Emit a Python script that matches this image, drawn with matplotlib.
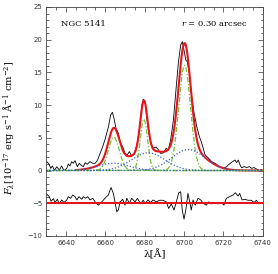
import numpy as np
import matplotlib
matplotlib.use("Agg")
import matplotlib.pyplot as plt
from matplotlib.ticker import MultipleLocator

comprimento_onda = [6630.2, 6631.4, 6632.2, 6633.1, 6634.1, 6635.3, 6636.6, 6637.8, 6639.0, 6640.4,
                    6641.2, 6642.0, 6642.9, 6643.7, 6644.6, 6645.8, 6646.8, 6647.6, 6648.8, 6649.8,
                    6650.8, 6652.2, 6653.6, 6654.8, 6655.9, 6657.3, 6658.6, 6659.8, 6661.6, 6662.7,
                    6663.6, 6664.4, 6665.4, 6666.6, 6667.5, 6668.3, 6669.1, 6670.0, 6671.2, 6672.2,
                    6673.4, 6674.6, 6676.0, 6677.3, 6678.5, 6679.3, 6680.2, 6681.0, 6681.9, 6683.1,
                    6684.4, 6685.8, 6686.9, 6688.2, 6689.5, 6690.9, 6692.0, 6693.2, 6694.6, 6695.9,
                    6697.1, 6698.3, 6699.1, 6700.0, 6700.9, 6701.7, 6702.7, 6703.9, 6705.1, 6706.5,
                    6707.8, 6709.0, 6710.7, 6712.4, 6714.1, 6715.8, 6717.5, 6720.0, 6721.7, 6722.4,
                    6724.6, 6725.9, 6726.7, 6727.6, 6728.5, 6729.3, 6730.5, 6731.9, 6733.2, 6734.4,
                    6735.6, 6737.0, 6738.3, 6739.3, 6740.0]
fluxo = [1.35, 1.0, 0.33, 0.69, 0.0, 0.58, 0.08, 0.69, 0.0, 0.33,
         1.0, 0.69, 1.35, 1.1, 1.5, 0.58, 1.1, 0.84, 0.58, 1.2,
         0.95, 1.35, 1.1, 1.1, 1.5, 2.6, 3.6, 4.7, 6.7, 8.5,
         8.9, 8.0, 6.45, 5.7, 4.4, 3.9, 3.4, 2.6, 2.4, 2.9,
         2.2, 2.5, 3.9, 6.2, 9.8, 10.9, 10.5, 8.2, 6.2, 4.2,
         3.4, 3.6, 3.2, 2.6, 2.7, 3.4, 3.1, 4.7, 7.7, 12.3,
         16.4, 19.2, 19.7, 18.4, 16.9, 16.6, 14.9, 11.3, 8.75, 6.7,
         5.2, 4.2, 2.4, 1.9, 1.35, 1.1, 0.7, 0.33, 0.6, 0.84,
         1.35, 1.6, 1.2, 1.6, 0.84, 0.4, 0.6, 0.45, 0.6, 0.33,
         0.45, 0.2, -0.05, 0.15, 0.0]

# residuos (deslocados para -5)
comprimento_onda_res = [6630.2, 6631.5, 6632.4, 6633.6, 6634.4, 6635.6, 6636.6, 6637.8, 6639.0, 6640.4,
                        6641.2, 6642.4, 6643.4, 6644.6, 6645.5, 6646.6, 6648.0, 6648.8, 6650.0, 6651.0,
                        6652.2, 6653.6, 6654.8, 6656.4, 6658.2, 6659.8, 6661.5, 6662.9, 6664.1, 6664.9,
                        6665.8, 6666.6, 6667.5, 6668.8, 6670.0, 6670.9, 6672.2, 6673.4, 6675.1, 6676.3,
                        6678.0, 6679.2, 6680.3, 6681.7, 6683.1, 6684.2, 6685.9, 6687.6, 6689.3, 6691.0,
                        6692.2, 6693.5, 6694.9, 6696.1, 6697.3, 6698.3, 6699.1, 6700.0, 6700.9, 6702.0,
                        6702.9, 6703.7, 6704.6, 6705.7, 6707.1, 6708.5, 6709.7, 6711.3, 6712.6, 6713.9,
                        6715.6, 6717.3, 6719.0, 6720.3, 6721.5, 6723.2, 6724.9, 6726.1, 6727.5, 6728.3,
                        6729.5, 6730.9, 6732.5, 6734.2, 6735.6, 6736.8, 6738.0, 6739.3, 6740.0]
residuo = [-3.6, -4.0, -4.7, -4.3, -4.9, -4.4, -5.1, -4.5, -4.9, -4.5,
           -4.0, -4.25, -3.75, -4.0, -4.5, -4.0, -4.4, -4.0, -4.25, -4.0,
           -4.5, -4.25, -4.8, -5.3, -4.8, -4.25, -3.75, -2.6, -3.5, -4.8,
           -6.3, -6.05, -4.8, -4.4, -5.3, -4.25, -5.0, -4.25, -4.8, -4.25,
           -5.1, -4.55, -5.0, -4.5, -4.9, -4.5, -4.8, -4.55, -4.55, -4.8,
           -5.8, -5.1, -6.05, -4.8, -3.4, -3.25, -6.05, -7.45, -6.05, -3.5,
           -4.8, -6.05, -4.5, -5.3, -4.25, -4.5, -5.0, -5.3, -4.8, -5.1,
           -4.9, -5.1, -4.9, -5.3, -4.25, -4.0, -3.75, -3.4, -3.9, -3.5,
           -4.5, -4.4, -4.55, -4.55, -4.9, -4.55, -5.1, -4.9, -5.0]

# componentes gaussianas: [NII]6548, Halpha, [NII]6583
centros_estreitas = [6664.3, 6679.6, 6700.3]
amplitudes_estreitas = [5.1, 7.85, 16.1]
sigmas_estreitas = [2.8, 1.85, 3.0]

centros_largas = [6664.0, 6681.8, 6702.2]
amplitudes_largas = [1.1, 2.7, 3.2]
sigmas_largas = [8.0, 8.5, 8.5]

nivel_residuo = -5
inicio_modelo = 6645


def gaussiana(x, centro, amplitude, sigma):
    return amplitude * np.exp(-0.5 * ((x - centro) / sigma) ** 2)


x = np.linspace(6630, 6740, 600)
estreitas = [gaussiana(x, c, a, s) for c, a, s in zip(centros_estreitas, amplitudes_estreitas, sigmas_estreitas)]
largas = [gaussiana(x, c, a, s) for c, a, s in zip(centros_largas, amplitudes_largas, sigmas_largas)]
modelo = np.sum(estreitas, axis=0) + np.sum(largas, axis=0)

plt.rcParams['font.family'] = ['DejaVu Serif']
plt.rcParams['mathtext.fontset'] = 'dejavuserif'

fig = plt.figure(figsize=(2.78, 2.74), dpi=100)
ax = fig.add_axes([0.1666, 0.139, 0.7784, 0.8355])

ax.plot(comprimento_onda, fluxo, color='black', lw=0.6)
ax.plot(comprimento_onda_res, residuo, color='black', lw=0.6)

dentro = x >= inicio_modelo
ax.plot(x[dentro], modelo[dentro], color='#e8141c', lw=1.5)
ax.axhline(nivel_residuo, color='#e8141c', lw=1.5)

for curva in estreitas:
    ax.plot(x, curva, color='#6cc23a', lw=0.9, ls=(0, (4, 1.5, 1, 1.5)))
for curva in largas:
    ax.plot(x, curva, color='#3f5fc0', lw=0.9, ls=(0, (1, 1.5)))

ax.set_xlim(6630, 6740)
ax.set_ylim(-10, 25)
ax.xaxis.set_major_locator(MultipleLocator(20))
ax.xaxis.set_minor_locator(MultipleLocator(5))
ax.yaxis.set_major_locator(MultipleLocator(5))
ax.yaxis.set_minor_locator(MultipleLocator(1))
ax.tick_params(which='both', direction='in', top=True, right=True, width=0.5, labelsize=5,
               colors='#333333', pad=3)
ax.tick_params(which='major', length=3.5)
ax.tick_params(which='minor', length=1.8)
for lab in ax.get_xticklabels() + ax.get_yticklabels():
    lab.set_family('DejaVu Sans')
for sp in ax.spines.values():
    sp.set_linewidth(0.6)
    sp.set_color('#444444')

ax.text(0.067, 22.4, 'NGC 5141', transform=ax.get_yaxis_transform(), fontsize=6, va='center', ha='left')
ax.text(0.932, 22.4, r'$r$ = 0.30 arcsec', transform=ax.get_yaxis_transform(), fontsize=6,
        va='center', ha='right')

ax.set_xlabel('λ[Å]', fontsize=7.5, labelpad=2)
ax.set_ylabel(r'$F_\lambda$[10$^{-17}$ erg s$^{-1}$ Å$^{-1}$ cm$^{-2}$]', fontsize=7)
ax.yaxis.set_label_coords(-0.135, 0.47)

fig.savefig('out.png', dpi=100)
